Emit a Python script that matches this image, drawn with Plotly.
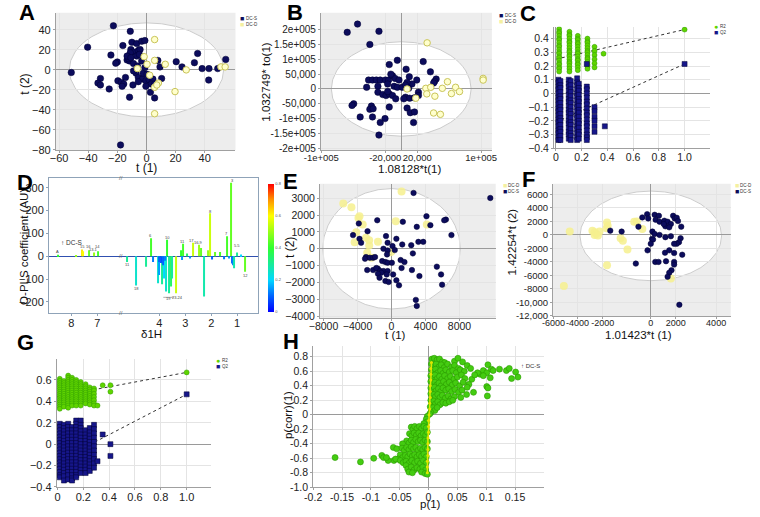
import plotly.graph_objects as go

# ---------------------------------------------------------------
# DATA
# ---------------------------------------------------------------
# A  PCA scores
a_s_t1 = [-22.7, -40.4, -11.1, -51.6, -17.8, -10.0, -6.7, -3.3, -1.1, -16.2, -10.7, -8.9, -11.1, -5.6, -4.4,
          -24.4, -20.0, -21.1, -13.3, -11.6, -12.2, -6.7, -4.9, -3.3, -8.9, -6.2, 7.8, 9.3, 20.4, 24.4, 32.9,
          35.1, 38.2, 42.9, 42.7, 48.9, 54.4, -7.1, -5.6, -2.7, -0.4, 1.8, 4.4, 10.4, 3.3, -0.4, 2.7, 5.6,
          -5.6, -9.3, -14.4, -19.6, -17.3, -15.6, -16.7, -11.6, -25.6, -31.6, -33.3, -31.6, -2.2, 0.4, -8.9,
          -1.1, -13.3, 5.6, -10.7]
a_s_t2 = [44.1, 22.7, 38.5, -2.6, -75.0, 27.6, 26.3, 28.6, 29.3, 24.3, 20.4, 17.8, 17.1, 19.4, 20.4,
          14.8, 7.9, 6.6, 9.9, 8.9, 11.2, 13.8, 15.5, 8.9, 6.3, 3.9, 9.5, 3.0, 8.2, 3.0, 7.2,
          16.4, 1.3, 1.3, -10.2, 1.3, 10.5, -3.3, -7.6, -9.2, -10.9, -9.9, -9.2, -8.6, -14.1, -16.4, -22.4, -28.0,
          -11.8, -15.1, -7.6, -10.9, -12.5, -14.1, -16.4, -27.3, -19.1, -8.6, -13.2, -15.1, -3.3, -4.3, -1.0,
          2.3, 13.8, -14.1, 12.2]
a_d_t1 = [5.6, -1.6, 0.4, 5.6, 12.9, -6.2, 2.2, 8.2, 5.6, 7.1, 19.6, 27.3, 51.1, 54.0, 5.6]
a_d_t2 = [30.3, 13.2, 5.6, 9.5, 5.6, 1.3, -5.3, -13.2, -17.4, -15.1, -21.7, 0.0, 3.0, 3.0, -43.8]

# B  OPLS-DA scores
b_s_t1 = [-67600, -54700, -27900, -39300, -4900, -15000, 27500, 6100, 36500, 43700, 41700, 40500, 10100, 19400,
          13400, -40900, -36000, -31200, -26300, -19800, -15800, -10900, -7700, -13000, -2800, 7300, -43300,
          -29200, -17000, -8900, -4900, 1200, 5300, 9300, 21500, 21500, -29200, -23100, -19000, -15000, -10900,
          -17000, 5300, 10500, 16600, -59500, -61600, -37300, -39300, -35200, -51400, -36000, -20300, -26300,
          -15000, 7300, 11300, 16600, 15400, -27900, -6900, 3200]
b_s_to1 = [189500, 217000, 192900, 148800, 95900, 81500, 91500, 66100, 57300, 33100, 25300, 19800, 40800, 29800,
           16500, 29800, 29800, 29800, 29800, 29800, 29800, 44100, 35300, 49600, 29800, 22000, 5500,
           8800, 16500, 8800, 5500, 5500, 13200, 2200, -11000, -22000, -11000, -18700, -22000, -16500, -22000,
           -8800, -27600, -30900, -29800, -49600, -55100, -57300, -68300, -66100, -93700, -93700, -99200, -112400,
           -60600, -63900, -79300, -77100, -112400, -154300, -33100, -33100]
b_d_t1 = [32400, 30800, 36900, 32000, 42100, 57900, 51400, 68000, 72900, 62800, 40500, 49000, 102500, 102500,
          7300, 18200]
b_d_to1 = [154300, 2200, 5500, -16500, -24200, 24200, 2200, 5500, -8800, -15400, -80400, -84900, 35300, 29800,
           0, -30900]

# C  permutation test - columns of points
c_r2_colx = [0.025, 0.105, 0.17, 0.245, 0.30, 0.37]
c_r2_coly = [
    [0.47, 0.45, 0.44, 0.42, 0.40, 0.39, 0.37, 0.35, 0.34, 0.32, 0.30, 0.29, 0.27, 0.26, 0.24, 0.22, 0.21, 0.19, 0.18, 0.16],
    [0.45, 0.43, 0.42, 0.40, 0.38, 0.37, 0.35, 0.33, 0.31, 0.30, 0.28, 0.27, 0.25, 0.23, 0.22, 0.20, 0.18, 0.16],
    [0.42, 0.40, 0.39, 0.37, 0.36, 0.34, 0.32, 0.30, 0.29, 0.27, 0.25, 0.24, 0.22, 0.21, 0.19, 0.17],
    [0.40, 0.38, 0.37, 0.35, 0.33, 0.31, 0.30, 0.28, 0.26, 0.25, 0.23, 0.21, 0.20, 0.18],
    [0.34, 0.31, 0.28, 0.25, 0.22, 0.19],
    [0.29],
]
c_q2_colx = [0.02, 0.035, 0.10, 0.115, 0.165, 0.178, 0.24, 0.30, 0.38]
c_q2_coly = [
    [0.10, 0.08, 0.05, 0.03, 0.0, -0.03, -0.05, -0.08, -0.11, -0.13, -0.16, -0.19, -0.21, -0.24, -0.27, -0.29, -0.32, -0.34],
    [0.09, 0.06, 0.04, 0.01, -0.02, -0.04, -0.07, -0.10, -0.12, -0.15, -0.18, -0.20, -0.23, -0.26, -0.28, -0.31, -0.34],
    [0.10, 0.07, 0.05, 0.02, -0.01, -0.04, -0.06, -0.09, -0.12, -0.14, -0.17, -0.20, -0.22, -0.25, -0.28, -0.30, -0.33],
    [0.09, 0.06, 0.03, 0.01, -0.02, -0.05, -0.07, -0.10, -0.13, -0.15, -0.18, -0.21, -0.23, -0.26, -0.29, -0.31, -0.34],
    [0.11, 0.08, 0.06, 0.03, 0.0, -0.02, -0.05, -0.08, -0.10, -0.13, -0.16, -0.18, -0.21, -0.24, -0.26, -0.29, -0.32, -0.34],
    [0.07, 0.04, 0.02, -0.01, -0.04, -0.06, -0.09, -0.12, -0.14, -0.17, -0.20, -0.22, -0.25, -0.28, -0.30, -0.33],
    [0.215, 0.05, 0.03, 0.0, -0.03, -0.06, -0.08, -0.11, -0.14, -0.16, -0.19, -0.22, -0.24, -0.27, -0.30, -0.32, -0.34],
    [-0.10, -0.13, -0.17, -0.20, -0.24, -0.28],
    [-0.24],
]
c_orig = [1.0, 0.466, 0.215]          # x, R2, Q2 of the real model
c_r2_line = [0.25, 0.466]              # regression line y at x = 0 and 1
c_q2_line = [-0.21, 0.215]

# D  O-PLS coefficient plot: chemical shift (ppm), coefficient, |r|
d_ppm = [1.225, 2.06, 1.375, 4.34, 3.69, 3.09, 2.69, 2.46, 2.40, 7.60, 7.54, 7.33, 7.13, 6.98, 1.85, 1.65, 1.00,
         3.15, 2.94, 2.125, 4.90, 4.525, 4.06, 4.00, 3.90, 3.81, 3.73, 3.63, 3.55, 3.50, 3.34, 2.275, 0.69,
         1.19, 1.15, 1.12, 4.03, 4.25, 3.12, 1.95, 1.50, 5.25, 2.80, 3.95, 3.85, 3.77, 8.50, 7.80, 0.85, 1.30]
d_coef = [322, 188, 88, 79, 72, 55, 59, 50, 36, 30, 22, 26, 16, 22, 19, 19, 16,
          26, 12, 26, -128, -46, -118, -82, -123, -97, -154, -162, -133, -97, -162, -176, -68,
          -32, -39, -53, -25, -25, -17, -14, -13, -25, -10, -30, -40, -20, 6, 5, 8, -10]
d_corr = [0.45, 0.55, 0.42, 0.42, 0.40, 0.42, 0.55, 0.50, 0.45, 0.62, 0.60, 0.45, 0.50, 0.42, 0.45, 0.42, 0.30,
          0.40, 0.35, 0.50, 0.25, 0.30, 0.25, 0.15, 0.30, 0.20, 0.25, 0.30, 0.35, 0.30, 0.55, 0.28, 0.45,
          0.10, 0.12, 0.28, 0.10, 0.12, 0.15, 0.10, 0.12, 0.30, 0.15, 0.08, 0.10, 0.12, 0.40, 0.50, 0.20, 0.15]
d_tick_ppm = [8, 7, 4, 3, 2, 1]
d_peak_labels = [(1.16, 330, "3"), (2.02, 197, "8"), (1.40, 100, "7"), (4.34, 92, "6"), (3.69, 82, "10"),
                 (3.10, 64, "11"), (2.75, 70, "17"), (2.48, 62, "16.9"), (7.58, 42, "15"), (7.33, 42, "16"),
                 (7.16, 28, "13.1"), (6.98, 42, "14"), (1.02, 45, "5.5"), (0.66, -84, "12"),
                 (4.90, -142, "18"), (5.25, -38, "11"), (3.63, -185, "19"), (3.30, -180, "23.24"), (8.55, 20, "A")]

# E  PCA scores (second data set)
e_s_t1 = [2590, 11620, -1680, 1330, -3850, 4110, 4570, 2970, 6400, 6200, 7050, -4530, -2820, -3770, -3580, -650,
          570, -460, 115, 3160, 3730, 2320, 1260, -950, -460, 380, -530, -3000, -3120, -2550, -2170, -1940, 2510,
          1070, 1520, -1100, -720, -460, 40, -2170, -1600, -1790, -1330, -950, -1220, -1600, -1410, -460, -570,
          190, 2400, 1180, 5330, 5830, 5950, 3280, 570, 880, -720, -340, 2860, 2970, -2860]
e_s_t2 = [3310, 3010, 1690, 1600, 1500, 1930, 1400, 1300, 1730, 1690, 810, 810, 1040, 590, 355, 750,
          590, 355, 160, 410, 410, 215, 255, 0, -100, -80, -335, -490, -590, -530, -530, -490, -275,
          -670, -790, -730, -790, -830, -830, -1260, -1180, -1140, -1320, -1320, -1420, -1480, -1720, -1320, -1520,
          -1520, -1260, -1140, -1060, -1520, -2130, -1620, -1870, -2170, -1910, -1970, -3030, -3390, -1260]
e_d_t1 = [-5680, -4720, -3890, -3770, -3390, -4150, -4340, -3000, -2630, -1600, -2630, -2860, -2360, 500, 1180,
          4150, -76]
e_d_t2 = [2680, 2460, 1830, 1930, 1440, 985, 390, 650, 510, 410, 200, -240, -530, 1630, 3400, 1440, -200]

# F  OPLS-DA scores (second data set)
f_s_t1 = [-290, 310, 650, -680, -210, 390, 700, 1090, 1350, 1790, 1920, 2080, 2180, 1610, 1170, 1040, 1480, 2440,
          -990, -3250, -2340, 130, 310, 700, 100, 180, 1170, 1610, 2390, 2260, 2080, 1870, 0, -260, 1140, 1870,
          2520, 1480, 360, 620, 1220, 1870, 1870, 1660, 1480, 1350, -1200, 2290]
f_s_t2 = [3070, 2980, 2830, 2590, 2440, 2240, 1950, 2100, 1950, 2830, 2440, 2540, 2050, 1610, 1270, 1610, 1120, 1220,
          1220, 630, 490, 490, 150, 0, -590, -680, -340, -200, -490, -1070, -1320, -1320, -1320, -2290, -2640, -2680,
          -2930, -2290, -4000, -4000, -3900, -4000, -4390, -5220, -5610, -6200, -4250, -10350]
f_d_t1 = [-6500, -4680, -4500, -4370, -4110, -4500, -4240, -3510, -3460, -3540, -2420, -2240, -1870, -3510, -6970,
          -1330, -1120, -680, 1610]
f_d_t2 = [490, 630, 390, 150, 490, 0, -100, 1850, 1370, 980, -490, -880, -2150, -4490, -7560, 1950, 2000, 880,
          -6440]
f_xtick_vals = [-7800, -5870, -3850, 0, 2000, 5240]
f_xtick_text = ["-6000", "-4000", "-2000", "0", "2000", "4000"]

# G  permutation test (second data set)
g_colx = [0.018, 0.05, 0.083, 0.113, 0.145, 0.18, 0.218, 0.25, 0.283, 0.31, 0.35, 0.41]
g_r2_coly = [
    [0.61, 0.59, 0.57, 0.55, 0.53, 0.51, 0.49, 0.47, 0.45, 0.43, 0.41, 0.39, 0.37, 0.35, 0.33],
    [0.59, 0.57, 0.55, 0.53, 0.51, 0.49, 0.47, 0.45, 0.43, 0.41, 0.39, 0.37, 0.35],
    [0.64, 0.62, 0.60, 0.58, 0.56, 0.54, 0.52, 0.50, 0.48, 0.46, 0.44, 0.42, 0.40, 0.38, 0.36, 0.34],
    [0.62, 0.60, 0.58, 0.56, 0.54, 0.52, 0.50, 0.48, 0.46, 0.44, 0.42, 0.40, 0.38, 0.36],
    [0.60, 0.58, 0.56, 0.54, 0.52, 0.50, 0.48, 0.46, 0.44, 0.42, 0.40, 0.38, 0.36],
    [0.58, 0.56, 0.54, 0.52, 0.50, 0.48, 0.46, 0.44, 0.42, 0.40, 0.38, 0.36],
    [0.56, 0.54, 0.52, 0.50, 0.48, 0.46, 0.44, 0.42, 0.40, 0.38],
    [0.53, 0.51, 0.49, 0.47, 0.45, 0.43, 0.41, 0.39, 0.37],
    [0.52, 0.50, 0.47, 0.44, 0.41, 0.38, 0.36],
    [0.36],
    [0.55],
    [0.55, 0.49],
]
g_q2_coly = [
    [0.19, 0.16, 0.13, 0.10, 0.07, 0.04, 0.01, -0.02, -0.05, -0.08, -0.11, -0.14, -0.17, -0.20, -0.23, -0.26, -0.29, -0.31],
    [0.18, 0.15, 0.12, 0.09, 0.06, 0.03, 0.0, -0.03, -0.06, -0.09, -0.12, -0.15, -0.18, -0.21, -0.24, -0.27, -0.30, -0.34],
    [0.19, 0.16, 0.13, 0.10, 0.07, 0.04, 0.01, -0.02, -0.05, -0.08, -0.11, -0.14, -0.17, -0.20, -0.23, -0.26, -0.29, -0.33],
    [0.16, 0.13, 0.10, 0.07, 0.04, 0.01, -0.02, -0.05, -0.08, -0.11, -0.14, -0.17, -0.20, -0.23, -0.26, -0.29, -0.32, -0.34],
    [0.22, 0.19, 0.16, 0.13, 0.10, 0.07, 0.04, 0.01, -0.02, -0.05, -0.08, -0.11, -0.14, -0.17, -0.20, -0.23, -0.26, -0.29, -0.31],
    [0.22, 0.18, 0.15, 0.12, 0.09, 0.06, 0.03, 0.0, -0.03, -0.06, -0.09, -0.12, -0.15, -0.18, -0.21, -0.24, -0.27],
    [0.13, 0.09, 0.06, 0.03, 0.0, -0.03, -0.06, -0.09, -0.12, -0.15, -0.18, -0.21, -0.24, -0.27],
    [0.15, 0.11, 0.08, 0.05, 0.02, -0.01, -0.04, -0.07, -0.10, -0.13, -0.16, -0.19, -0.22, -0.25],
    [0.18, 0.14, 0.10, 0.06, 0.02, -0.02, -0.06, -0.10, -0.14, -0.18, -0.22],
    [-0.16],
    [0.09],
    [0.0, -0.11],
]
g_orig = [1.0, 0.67, 0.465]
g_r2_line = [0.445, 0.67]
g_q2_line = [-0.162, 0.465]

# H  S-plot: p(1) vs p(corr)(1)
h_p1 = [0.006, 0.010, 0.015, 0.019, 0.024, 0.028, 0.045, 0.051, 0.059,
        0.005, 0.009, 0.013, 0.018, 0.022, 0.027, 0.033, 0.040, 0.045, 0.052, 0.067,
        0.005, 0.008, 0.012, 0.016, 0.021, 0.025, 0.030, 0.036, 0.042, 0.048, 0.055, 0.062, 0.073,
        0.004, 0.008, 0.011, 0.015, 0.019, 0.023, 0.028, 0.033, 0.038, 0.044, 0.050, 0.057, 0.063, 0.075,
        0.004, 0.007, 0.011, 0.014, 0.018, 0.022, 0.026, 0.031, 0.036, 0.041, 0.047, 0.054, 0.060, 0.070,
        0.004, 0.007, 0.010, 0.013, 0.017, 0.021, 0.025, 0.030, 0.035, 0.040, 0.046, 0.052, 0.058, 0.067, 0.078,
        0.004, 0.006, 0.009, 0.012, 0.016, 0.020, 0.024, 0.029, 0.034, 0.039, 0.045, 0.056, 0.066,
        0.004, 0.006, 0.009, 0.012, 0.016, 0.020, 0.025, 0.030, 0.036, 0.042,
        0.003, 0.005, 0.008, 0.011, 0.015, 0.004, 0.002,
        0.089, 0.095, 0.101, 0.103, 0.109, 0.107, 0.101, 0.103, 0.102, 0.112, 0.123, 0.135, 0.140, 0.144, 0.151,
        0.155, 0.095, 0.085, 0.080,
        -0.002, -0.004, -0.003, -0.008,
        -0.030, -0.027, -0.024, -0.020, -0.016, -0.012, -0.008, -0.004,
        -0.033, -0.029, -0.025, -0.021, -0.017, -0.013, -0.009, -0.005, -0.002,
        -0.038, -0.034, -0.030, -0.026, -0.022, -0.018, -0.014, -0.010, -0.006, -0.002, -0.045,
        -0.061, -0.055, -0.046, -0.042, -0.038, -0.034, -0.030, -0.026, -0.022, -0.018, -0.014, -0.010, -0.006, -0.002,
        -0.049, -0.045, -0.040, -0.036, -0.032, -0.028, -0.024, -0.020, -0.016, -0.012, -0.008, -0.004, -0.053,
        -0.060, -0.057, -0.049, -0.044, -0.039, -0.034, -0.029, -0.024, -0.019, -0.014, -0.009, -0.004,
        -0.039, -0.036, -0.030, -0.025, -0.020, -0.015, -0.010, -0.005,
        -0.034, -0.028, -0.012, -0.006, -0.002,
        -0.162, -0.118, -0.095, -0.081, -0.078, -0.070, -0.073]
h_pcorr = [0.77, 0.78, 0.76, 0.77, 0.73, 0.72, 0.74, 0.78, 0.73,
           0.70, 0.68, 0.70, 0.66, 0.69, 0.65, 0.70, 0.66, 0.68, 0.64, 0.68,
           0.62, 0.60, 0.63, 0.58, 0.61, 0.57, 0.62, 0.59, 0.61, 0.58, 0.62, 0.60, 0.64,
           0.54, 0.52, 0.55, 0.50, 0.53, 0.49, 0.54, 0.50, 0.53, 0.49, 0.52, 0.55, 0.50, 0.49,
           0.46, 0.43, 0.45, 0.41, 0.44, 0.40, 0.46, 0.42, 0.45, 0.41, 0.44, 0.40, 0.45, 0.42,
           0.37, 0.35, 0.38, 0.33, 0.36, 0.32, 0.37, 0.34, 0.36, 0.32, 0.35, 0.31, 0.34, 0.38, 0.31,
           0.29, 0.26, 0.28, 0.25, 0.28, 0.24, 0.27, 0.23, 0.26, 0.22, 0.25, 0.24, 0.28,
           0.20, 0.17, 0.19, 0.15, 0.18, 0.14, 0.17, 0.16, 0.18, 0.20,
           0.11, 0.07, 0.10, 0.06, 0.10, 0.03, 0.01,
           0.56, 0.61, 0.58, 0.69, 0.63, 0.51, 0.39, 0.37, 0.26, 0.61, 0.63, 0.61, 0.64, 0.50, 0.59,
           0.52, 0.54, 0.58, 0.55,
           -0.02, -0.06, -0.10, -0.12,
           -0.17, -0.20, -0.16, -0.19, -0.16, -0.19, -0.16, -0.18,
           -0.26, -0.29, -0.25, -0.28, -0.25, -0.29, -0.26, -0.28, -0.24,
           -0.36, -0.39, -0.35, -0.38, -0.34, -0.37, -0.35, -0.38, -0.35, -0.37, -0.40,
           -0.45, -0.47, -0.46, -0.49, -0.45, -0.48, -0.44, -0.47, -0.45, -0.49, -0.46, -0.48, -0.45, -0.47,
           -0.55, -0.59, -0.56, -0.58, -0.54, -0.57, -0.55, -0.58, -0.55, -0.57, -0.54, -0.58, -0.61,
           -0.63, -0.61, -0.63, -0.66, -0.64, -0.67, -0.63, -0.66, -0.64, -0.67, -0.63, -0.66,
           -0.70, -0.75, -0.72, -0.76, -0.73, -0.75, -0.72, -0.76,
           -0.79, -0.80, -0.79, -0.81, -0.82,
           -0.59, -0.65, -0.60, -0.56, -0.59, -0.63, -0.59]
h_mid_p1 = [-0.002, -0.002, -0.002, -0.001, -0.001, -0.001, -0.001, 0.0, 0.0, 0.0, 0.001, 0.002, 0.002, 0.003,
            0.003, 0.003, 0.004, 0.004, 0.004, 0.005]
h_mid_pcorr = [-0.80, -0.72, -0.64, -0.56, -0.48, -0.40, -0.32, -0.24, -0.16, -0.08, 0.0, 0.08, 0.16, 0.24,
               0.32, 0.40, 0.48, 0.56, 0.64, 0.72]

# ---------------------------------------------------------------
# FIGURE
# ---------------------------------------------------------------
W, H = 760, 517
FONT = "Arial, Liberation Sans, sans-serif"
NAVY = "#0c0c5c"
NAVY_EDGE = "#000033"
YEL_FILL = "#ffffcc"
YEL_EDGE = "#c9c45a"
PALE = "#f6f08e"
GREEN = "#5fd400"
GREEN_EDGE = "#2f9a00"
QBLUE = "#16168a"


def px(x):
    return x / W


def py(y):
    return 1 - y / H


def ref(n, a):
    return a if n == 1 else f"{a}{n}"


def add_axes(n, box, xr, yr, xt, yt, xtext=None, ytext=None, grid=True, mirror=False,
             linecolor="#a0a0a0", zerocolor="#9a9a9a", tsize=10.5, ytsize=None, xtsize=None, xstand=-4):
    x0, x1, ytop, ybot = box
    common = dict(showline=True, linecolor=linecolor, linewidth=1, ticks="outside", ticklen=2,
                  tickcolor=linecolor, tickangle=0,
                  showgrid=grid, gridcolor="#e4e4e4", gridwidth=1, zeroline=True,
                  zerolinecolor=zerocolor, zerolinewidth=1, mirror=mirror, fixedrange=True)
    xa = dict(common, domain=[px(x0), px(x1)], range=xr, anchor=ref(n, "y"), tickvals=xt,
              ticklabelstandoff=xstand, tickfont=dict(size=xtsize or tsize, color="#222", family=FONT))
    ya = dict(common, domain=[py(ybot), py(ytop)], range=yr, anchor=ref(n, "x"), tickvals=yt,
              tickfont=dict(size=ytsize or tsize, color="#222", family=FONT))
    if xtext is not None:
        xa["ticktext"] = xtext
    if ytext is not None:
        ya["ticktext"] = ytext
    fig.update_layout(**{ref(n, "xaxis"): xa, ref(n, "yaxis"): ya})


def score_bg(n, cx, cy, rx, ry):
    # grey plot area with the white Hotelling T2 ellipse
    fig.add_shape(type="rect", xref=ref(n, "x") + " domain", yref=ref(n, "y") + " domain",
                  x0=0, x1=1, y0=0, y1=1, fillcolor="#ededed", line_width=0, layer="below")
    fig.add_shape(type="circle", xref=ref(n, "x"), yref=ref(n, "y"),
                  x0=cx - rx, x1=cx + rx, y0=cy - ry, y1=cy + ry,
                  fillcolor="white", line=dict(color="#cccccc", width=1), layer="below")


def text(x, y, s, size=11, angle=0, bold=False, color="#111", anchor="center"):
    if bold:
        s = f"<b>{s}</b>"
    fig.add_annotation(x=px(x), y=py(y), xref="paper", yref="paper", text=s, showarrow=False,
                       textangle=angle, xanchor=anchor, yanchor="middle",
                       font=dict(size=size, color=color, family=FONT))


def legend(x, y, items):
    for i, (glyph, col, lab) in enumerate(items):
        yy = y + i * 6
        text(x, yy, glyph, size=7, color=col, anchor="left")
        text(x + 6, yy, lab, size=4.5, color="#333", anchor="left")


def flat(colx, coly):
    xs, ys = [], []
    for cx, col in zip(colx, coly):
        for v in col:
            xs.append(cx)
            ys.append(v)
    return xs, ys


fig = go.Figure()

# ---------- A ----------
add_axes(1, (40, 225, 13, 152), [-62.2, 61.1], [-80.3, 57],
         [-60, -40, -20, 0, 20, 40], [-80, -60, -40, -20, 0, 20, 40], tsize=11)
score_bg(1, 0, 0, 53, 47)
fig.add_trace(go.Scatter(x=a_s_t1, y=a_s_t2, mode="markers", xaxis="x", yaxis="y",
                         marker=dict(size=6.5, color=NAVY, line=dict(color=NAVY_EDGE, width=0.5))))
fig.add_trace(go.Scatter(x=a_d_t1, y=a_d_t2, mode="markers", xaxis="x", yaxis="y",
                         marker=dict(size=6.5, color=YEL_FILL, line=dict(color=YEL_EDGE, width=1))))

# ---------- B ----------
add_axes(2, (313, 489, 13, 152), [-100500, 113400], [-205000, 254600],
         [-100000, -20000, 20000, 100000],
         [-200000, -150000, -100000, -50000, 0, 50000, 100000, 150000, 200000],
         xtext=["-1e+005", "-20,000", "20,000", "1e+005"],
         ytext=["-2e+005", "-1.5e+005", "-1e+005", "-50,000", "0", "50,000", "1e+005", "1.5e+005", "2e+005"],
         tsize=10, xtsize=9.5)
score_bg(2, 0, 0, 87500, 158000)
fig.add_trace(go.Scatter(x=b_s_t1, y=b_s_to1, mode="markers", xaxis="x2", yaxis="y2",
                         marker=dict(size=6.5, color=NAVY, line=dict(color=NAVY_EDGE, width=0.5))))
fig.add_trace(go.Scatter(x=b_d_t1, y=b_d_to1, mode="markers", xaxis="x2", yaxis="y2",
                         marker=dict(size=6.5, color=YEL_FILL, line=dict(color=YEL_EDGE, width=1))))

# ---------- C ----------
add_axes(3, (553, 714, 27, 150), [-0.015, 1.2], [-0.4, 0.487],
         [0, 0.2, 0.4, 0.6, 0.8, 1.0], [-0.4, -0.3, -0.2, -0.1, 0, 0.1, 0.2, 0.3, 0.4],
         xtext=["0", "0.2", "0.4", "0.6", "0.8", "1.0"], xstand=-3)
cx, cy = flat(c_r2_colx, c_r2_coly)
qx, qy = flat(c_q2_colx, c_q2_coly)
fig.add_trace(go.Scatter(x=[0, c_orig[0]], y=c_r2_line, mode="lines", xaxis="x3", yaxis="y3",
                         line=dict(color="#333", width=1, dash="dot")))
fig.add_trace(go.Scatter(x=[0, c_orig[0]], y=c_q2_line, mode="lines", xaxis="x3", yaxis="y3",
                         line=dict(color="#333", width=1, dash="dot")))
fig.add_trace(go.Scatter(x=cx + [c_orig[0]], y=cy + [c_orig[1]], mode="markers", xaxis="x3", yaxis="y3",
                         marker=dict(size=5, color=GREEN, line=dict(color=GREEN_EDGE, width=0.5))))
fig.add_trace(go.Scatter(x=qx + [c_orig[0]], y=qy + [c_orig[2]], mode="markers", xaxis="x3", yaxis="y3",
                         marker=dict(size=5, symbol="square", color=QBLUE, line=dict(color=NAVY_EDGE, width=0.5))))

# ---------- D ----------
def d_pos(ppm):
    # axis break: the 5.5-6.1 ppm window is cut out
    return ppm - 0.6 if ppm > 5.8 else ppm


add_axes(4, (33, 248, 180, 317), [8.26, 0.2], [-250, 343],
         [d_pos(v) for v in d_tick_ppm], [-200, -100, 0, 100, 200, 300],
         xtext=[str(v) for v in d_tick_ppm], grid=False, mirror=True,
         linecolor="#8fa3b8", zerocolor="#3050b0", tsize=11, xstand=-3)
jet = [[0.0, "#0000ff"], [0.12, "#0060ff"], [0.25, "#00d8ff"], [0.5, "#30ff30"],
       [0.75, "#ffff00"], [0.88, "#ff9000"], [1.0, "#ff0000"]]
fig.add_trace(go.Bar(x=[d_pos(v) for v in d_ppm], y=d_coef, width=0.04, xaxis="x4", yaxis="y4",
                     marker=dict(color=d_corr, colorscale=jet, cmin=0, cmax=0.8, line_width=0,
                                 colorbar=dict(x=px(258), xanchor="left", xpad=0, ypad=0,
                                               y=py(251), yanchor="middle",
                                               len=130 / H, thickness=6, outlinewidth=0,
                                               tickvals=[0, 0.2, 0.4, 0.6, 0.8],
                                               ticks="", tickfont=dict(size=4, color="#555")))))
for p, v, s in d_peak_labels:
    fig.add_annotation(x=d_pos(p), y=v, xref="x4", yref="y4", text=s, showarrow=False,
                       font=dict(size=4, color="#444", family=FONT))
for yy in (180, 259, 317):
    text(107, yy, "//", size=6, color="#666")
fig.add_shape(type="line", xref="x4", yref="y4", x0=3.85, x1=3.45, y0=-180, y1=-180,
              line=dict(color="#777", width=0.6))
text(43, 245, "↑ DC-S", size=6.5, color="#333", anchor="left")

# ---------- E ----------
add_axes(5, (312, 493, 186, 322), [-8420, 12260], [-4120, 3850],
         [-8000, -4000, 0, 4000, 8000], [-4000, -3000, -2000, -1000, 0, 1000, 2000, 3000])
score_bg(5, 0, 0, 8100, 3570)
fig.add_trace(go.Scatter(x=e_d_t1, y=e_d_t2, mode="markers", xaxis="x5", yaxis="y5",
                         marker=dict(size=8, color=PALE, opacity=0.85, line_width=0)))
fig.add_trace(go.Scatter(x=e_s_t1, y=e_s_t2, mode="markers", xaxis="x5", yaxis="y5",
                         marker=dict(size=5.5, color=NAVY, line=dict(color=NAVY_EDGE, width=0.5))))

# ---------- F ----------
add_axes(6, (552, 735, 186, 320), [-7840, 6410], [-12050, 7560],
         f_xtick_vals, [-12000, -10000, -8000, -6000, -4000, -2000, 0, 2000, 4000, 6000],
         xtext=f_xtick_text,
         ytext=["-12,000", "-10,000", "-8000", "-6000", "-4000", "-2000", "0", "2000", "4000", "6000"],
         ytsize=9.5, xtsize=9)
score_bg(6, 0, -145, 5680, 6635)
fig.add_trace(go.Scatter(x=f_d_t1, y=f_d_t2, mode="markers", xaxis="x6", yaxis="y6",
                         marker=dict(size=8, color=PALE, opacity=0.85, line_width=0)))
fig.add_trace(go.Scatter(x=f_s_t1, y=f_s_t2, mode="markers", xaxis="x6", yaxis="y6",
                         marker=dict(size=5.5, color=NAVY, line=dict(color=NAVY_EDGE, width=0.5))))

# ---------- G ----------
add_axes(7, (41, 200, 363, 493), [-0.005, 1.19], [-0.403, 0.797],
         [0, 0.2, 0.4, 0.6, 0.8, 1.0], [-0.4, -0.2, 0, 0.2, 0.4, 0.6],
         xtext=["0", "0.2", "0.4", "0.6", "0.8", "1.0"], tsize=11, xstand=-2)
gx, gy = flat(g_colx, g_r2_coly)
hx, hy = flat(g_colx, g_q2_coly)
fig.add_trace(go.Scatter(x=[0, g_orig[0]], y=g_r2_line, mode="lines", xaxis="x7", yaxis="y7",
                         line=dict(color="#333", width=1, dash="dot")))
fig.add_trace(go.Scatter(x=[0, g_orig[0]], y=g_q2_line, mode="lines", xaxis="x7", yaxis="y7",
                         line=dict(color="#333", width=1, dash="dot")))
fig.add_trace(go.Scatter(x=gx + [g_orig[0]], y=gy + [g_orig[1]], mode="markers", xaxis="x7", yaxis="y7",
                         marker=dict(size=5, color=GREEN, line=dict(color=GREEN_EDGE, width=0.5))))
fig.add_trace(go.Scatter(x=hx + [g_orig[0]], y=hy + [g_orig[2]], mode="markers", xaxis="x7", yaxis="y7",
                         marker=dict(size=5, symbol="square", color=QBLUE, line=dict(color=NAVY_EDGE, width=0.5))))

# ---------- H ----------
add_axes(8, (305, 543, 350, 493), [-0.2, 0.2007], [-1.0, 0.95],
         [-0.2, -0.15, -0.1, -0.05, 0, 0.05, 0.1, 0.15],
         [-1.0, -0.8, -0.6, -0.4, -0.2, 0, 0.2, 0.4, 0.6, 0.8],
         xtext=["-0.2", "-0.15", "-0.1", "-0.05", "0", "0.05", "0.1", "0.15"],
         ytext=["-1.0", "-0.8", "-0.6", "-0.4", "-0.2", "0", "0.2", "0.4", "0.6", "0.8"], xstand=-2)
fig.add_trace(go.Scatter(x=h_p1, y=h_pcorr, mode="markers", xaxis="x8", yaxis="y8",
                         marker=dict(size=6, color="#44cc11", line=dict(color="#2a9a00", width=0.6))))
fig.add_trace(go.Scatter(x=h_mid_p1, y=h_mid_pcorr, mode="lines+markers", xaxis="x8", yaxis="y8",
                         line=dict(color="#dfe600", width=1.5), marker=dict(size=3, color="#dfe600")))
text(517, 370, "↑ DC-S", size=6, color="#333", anchor="left")

# ---------- titles, letters, legends ----------
text(8, 85, "t (2)", size=12, angle=-90)
text(133, 170, "t (1)", size=12)
text(256, 83, "1.032749* to(1)", size=11.5, angle=-90)
text(404, 171, "1.08128*t(1)", size=11.5)
text(7, 250, "O-PLS coefficient (AU)", size=11.5, angle=-90)
text(138, 338, "δ1H", size=11.5)
text(281, 250, "t (2)", size=12, angle=-90)
text(390, 339, "t (1)", size=11.5)
text(510, 245, "1.42254*t (2)", size=11.5, angle=-90)
text(640, 339, "1.01423*t (1)", size=11.5)
text(279, 420, "p(corr)(1)", size=11.5, angle=-90)
text(426, 510, "p(1)", size=11.5)

for lx, ly, s in [(10, 13, "A"), (286, 13, "B"), (526, 14, "C"), (8, 185, "D"),
                  (282, 184, "E"), (527, 182, "F"), (9, 347, "G"), (282, 346, "H")]:
    text(lx, ly, s, size=22, bold=True, color="#000")

legend(228, 19, [("■", NAVY, "DC-S"), ("■", "#f4f0a0", "DC-D")])
legend(494, 16, [("■", NAVY, "DC-S"), ("■", "#f4f0a0", "DC-D")])
legend(716, 27, [("●", GREEN, "R2"), ("■", QBLUE, "Q2")])
legend(498, 188, [("■", "#f4f0a0", "DC-D"), ("■", NAVY, "DC-S")])
legend(737, 188, [("■", "#f4f0a0", "DC-D"), ("■", NAVY, "DC-S")])
legend(203, 365, [("●", GREEN, "R2"), ("■", QBLUE, "Q2")])

fig.update_layout(width=W, height=H, margin=dict(l=0, r=0, t=0, b=0),
                  paper_bgcolor="white", plot_bgcolor="white", showlegend=False,
                  barmode="overlay", font=dict(family=FONT, size=11, color="#222"))

# the page's default 8px body margin would push the figure off the window
fig.write_html("out.html", config={"displayModeBar": False},
               post_script="document.body.style.margin = '0px';")
